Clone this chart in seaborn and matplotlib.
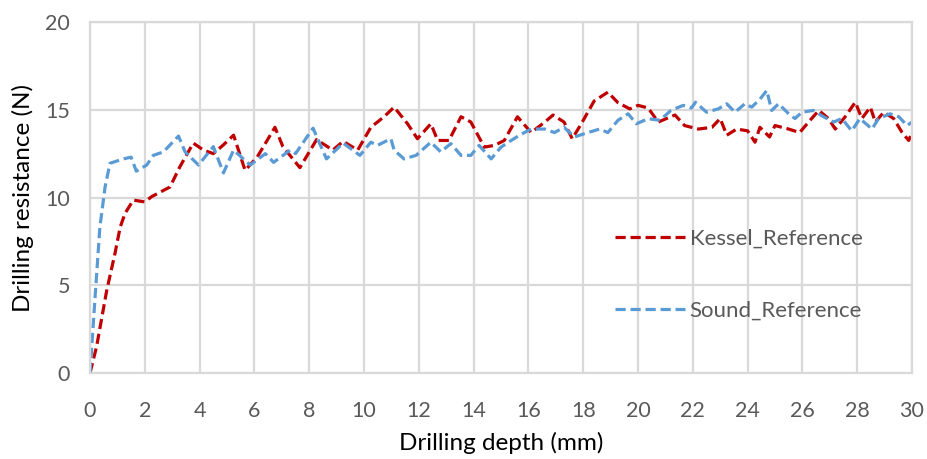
import matplotlib
matplotlib.use("Agg")
import matplotlib.pyplot as plt
import seaborn as sns
import pandas as pd
from matplotlib.lines import Line2D

kessel_depth = [0, 0.24, 0.61, 0.91, 1.1, 1.28, 1.58, 2.0, 2.25, 2.92, 3.28, 3.77, 4.14, 4.5, 4.87, 5.24,
                5.66, 6.1, 6.75, 7.04, 7.66, 8.27, 8.86, 9.24, 9.77, 10.25, 10.73, 11.1, 11.59, 11.95,
                12.44, 12.69, 13.1, 13.54, 13.9, 14.39, 14.76, 15.12, 15.6, 16.1, 16.6, 16.9, 17.3, 17.6,
                17.93, 18.4, 18.9, 19.27, 19.7, 20.0, 20.37, 20.74, 21.04, 21.35, 21.7, 22.2, 22.7, 23.0,
                23.24, 23.6, 24.0, 24.27, 24.45, 24.8, 25.0, 25.5, 25.9, 26.28, 26.6, 26.95, 27.2, 27.56,
                27.93, 28.17, 28.48, 28.66, 28.97, 29.33, 29.64, 29.88, 30.0]
kessel_force = [0, 1.5, 4.7, 6.8, 8.3, 9.1, 9.85, 9.75, 10.05, 10.6, 11.75, 13.1, 12.7, 12.5, 13.0, 13.55,
                11.55, 12.3, 14.0, 12.9, 11.7, 13.3, 12.7, 13.2, 12.7, 14.0, 14.6, 15.15, 14.2, 13.35,
                14.2, 13.25, 13.25, 14.6, 14.3, 12.87, 12.97, 13.25, 14.6, 13.7, 14.3, 14.7, 14.3, 13.35,
                14.2, 15.5, 16.0, 15.4, 15.05, 15.25, 15.1, 14.3, 14.5, 14.7, 14.1, 13.9, 14.0, 14.5,
                13.55, 13.9, 13.8, 13.15, 14.0, 13.45, 14.1, 13.9, 13.7, 14.4, 14.96, 14.5, 13.9, 14.6,
                15.43, 14.5, 15.15, 14.3, 14.86, 14.5, 13.7, 13.25, 13.7]

sound_depth = [0, 0.18, 0.36, 0.55, 0.73, 1.22, 1.5, 1.69, 2.07, 2.31, 2.68, 3.23, 3.47, 3.96, 4.5, 4.87,
               5.24, 5.85, 6.4, 6.7, 7.3, 7.5, 8.14, 8.63, 9.24, 9.85, 10.25, 10.49, 10.98, 11.1, 11.46,
               11.9, 12.44, 12.8, 13.17, 13.54, 13.9, 14.2, 14.64, 15.0, 15.37, 15.73, 16.1, 16.6, 16.95,
               17.3, 17.68, 18.17, 18.6, 18.9, 19.27, 19.64, 19.94, 20.37, 20.8, 21.2, 21.65, 21.95, 22.1,
               22.5, 22.93, 23.24, 23.54, 23.9, 24.15, 24.45, 24.7, 24.88, 25.13, 25.5, 25.73, 25.98, 26.4,
               26.77, 27.14, 27.44, 27.8, 28.1, 28.54, 28.78, 29.2, 29.52, 29.82, 30.0]
sound_force = [0, 4.2, 8.3, 10.6, 11.95, 12.2, 12.3, 11.5, 11.85, 12.4, 12.6, 13.5, 12.6, 11.85, 12.9, 11.4,
               12.7, 11.85, 12.5, 12.0, 12.7, 12.5, 13.95, 12.2, 13.1, 12.4, 13.15, 12.97, 13.35, 12.7, 12.2,
               12.4, 13.15, 12.6, 13.07, 12.4, 12.4, 12.97, 12.2, 12.87, 13.25, 13.6, 13.9, 13.9, 13.7,
               14.0, 13.45, 13.7, 13.9, 13.7, 14.4, 14.77, 14.2, 14.49, 14.4, 14.96, 15.25, 15.1, 15.43,
               14.86, 15.05, 15.34, 14.86, 15.34, 15.15, 15.6, 16.1, 14.96, 15.34, 14.77, 14.5, 14.86, 14.96,
               14.6, 14.3, 14.5, 13.8, 14.5, 13.9, 14.5, 14.77, 14.6, 14.1, 14.3]

series_names = ["Kessel_Reference", "Sound_Reference"]
x_ticks = list(range(0, 31, 2))
y_ticks = [0, 5, 10, 15, 20]

df = pd.concat([
    pd.DataFrame({"depth": kessel_depth, "force": kessel_force, "series": series_names[0]}),
    pd.DataFrame({"depth": sound_depth, "force": sound_force, "series": series_names[1]}),
], ignore_index=True)

sns.set_theme(style="white")
plt.rcParams["font.family"] = ["Lato", "DejaVu Sans"]

colors = {series_names[0]: "#C00000", series_names[1]: "#5B9BD5"}
dash = (3.2, 1.5)

fig = plt.figure(figsize=(9.27, 4.59), dpi=100)
ax = fig.add_axes([90 / 927, 86 / 459, 822 / 927, 351 / 459])

sns.lineplot(data=df, x="depth", y="force", hue="series", style="series",
             palette=colors, dashes={series_names[0]: dash, series_names[1]: dash},
             estimator=None, sort=False, linewidth=2.3, ax=ax, legend=False)

ax.set_xlim(0, 30)
ax.set_ylim(0, 20)
ax.set_xticks(x_ticks)
ax.set_yticks(y_ticks)
ax.grid(True, color="#D9D9D9", linewidth=1.6)
ax.set_axisbelow(True)
for s in ax.spines.values():
    s.set_color("#D9D9D9")
    s.set_linewidth(1.6)
ax.tick_params(axis="both", length=0, labelsize=15.5, labelcolor="#595959")
ax.tick_params(axis="x", pad=20)
ax.tick_params(axis="y", pad=14.5)
ax.set_xlabel("Drilling depth (mm)", fontsize=17.5, color="black", labelpad=8)
ax.set_ylabel("Drilling resistance (N)", fontsize=17.5, color="black", labelpad=8)

handles = [Line2D([], [], color=colors[n], linewidth=2.3, linestyle=(0, dash)) for n in series_names]
ax.legend(handles, series_names, loc="center left", bbox_to_anchor=(0.614, 0.28),
          frameon=False, fontsize=16, labelcolor="#595959", handlelength=3.15,
          handletextpad=0.22, labelspacing=2.35)

fig.savefig("out.png", dpi=100)
